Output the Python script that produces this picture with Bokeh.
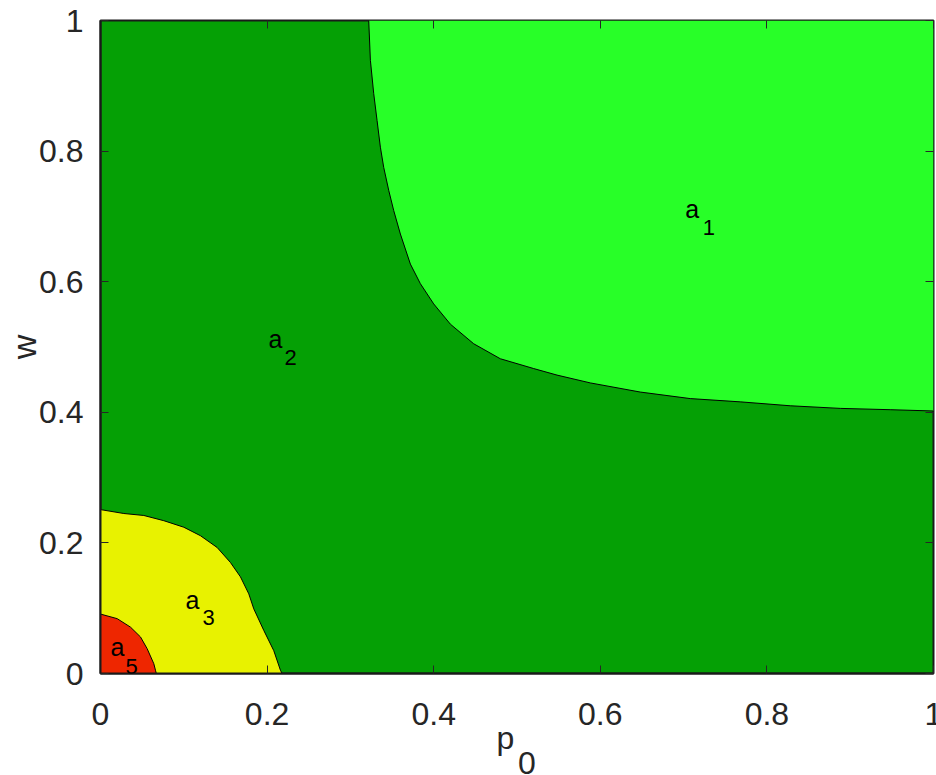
from bokeh.plotting import figure
from bokeh.models import Range1d, LinearAxis, Label, FixedTicker
from bokeh.embed import file_html
from bokeh.resources import INLINE

# ---------------- data ----------------
ticks = [0, 0.2, 0.4, 0.6, 0.8, 1]
tick_labels = ["0", "0.2", "0.4", "0.6", "0.8", "1"]

# x-axis title "p" with subscript "0": centre positions along p0
xtitle_pos = [0.486, 0.512]
xtitle_txt = ["\np", "\n\n0"]
ytitle = "w"

# boundary between a2 and a1 (p0, w)
a1_p0 = [0.322, 0.324, 0.328, 0.332, 0.336, 0.340, 0.346, 0.352, 0.360, 0.372,
         0.384, 0.400, 0.420, 0.448, 0.480, 0.520, 0.548, 0.588, 0.648, 0.708,
         0.768, 0.828, 0.888, 0.948, 1.0]
a1_w = [1.0, 0.939, 0.888, 0.847, 0.806, 0.775, 0.740, 0.709, 0.673, 0.627,
        0.597, 0.566, 0.535, 0.505, 0.482, 0.467, 0.457, 0.445, 0.431, 0.421,
        0.416, 0.410, 0.406, 0.404, 0.402]

# boundary between a3 and a2
a3_p0 = [0.0, 0.028, 0.052, 0.076, 0.100, 0.120, 0.140, 0.156, 0.168, 0.178,
         0.184, 0.196, 0.208, 0.216, 0.218]
a3_w = [0.251, 0.245, 0.242, 0.234, 0.224, 0.211, 0.193, 0.170, 0.148, 0.122,
        0.099, 0.066, 0.035, 0.005, 0.0]

# boundary between a5 and a3
a5_p0 = [0.0, 0.020, 0.036, 0.048, 0.056, 0.064, 0.066, 0.067]
a5_w = [0.091, 0.084, 0.071, 0.056, 0.038, 0.015, 0.005, 0.0]

# region labels: main letter and subscript
reg_names = ["a", "a", "a", "a"]
reg_subs = ["1", "2", "3", "5"]
reg_x = [0.702, 0.2017, 0.102, 0.012]
reg_y = [0.712, 0.513, 0.113, 0.041]
sub_x = [0.723, 0.221, 0.1224, 0.030]
sub_y = [0.683, 0.484, 0.085, 0.011]

C_A1 = "#28ff28"
C_A2 = "#05a005"
C_A3 = "#e8f200"
C_A5 = "#ee2600"

FONT = "Liberation Sans"
TXT = "#262626"

p = figure(frame_width=833, frame_height=653,
           x_range=Range1d(0, 1), y_range=Range1d(0, 1),
           output_backend="svg", toolbar_location=None,
           min_border_left=100, min_border_right=3,
           min_border_top=20, min_border_bottom=102)

p.background_fill_color = C_A2
p.border_fill_color = "white"
p.xgrid.visible = False
p.ygrid.visible = False
p.outline_line_color = "#1a1a1a"
p.outline_line_width = 2

# regions
p.patch(a1_p0 + [1.0], a1_w + [1.0], fill_color=C_A1, line_color=None)
p.patch(a3_p0 + [0.0], a3_w + [0.0], fill_color=C_A3, line_color=None)
p.patch(a5_p0 + [0.0], a5_w + [0.0], fill_color=C_A5, line_color=None)

# boundaries
for xs, ys in [(a1_p0, a1_w), (a3_p0, a3_w), (a5_p0, a5_w)]:
    p.line(xs, ys, line_color="black", line_width=1)

# region labels
for n, s, x, y, sx, sy in zip(reg_names, reg_subs, reg_x, reg_y, sub_x, sub_y):
    p.add_layout(Label(x=x, y=y, text=n, text_font=FONT, text_font_size="25px",
                       text_color="black", text_align="left", text_baseline="alphabetic"))
    p.add_layout(Label(x=sx, y=sy, text=s, text_font=FONT, text_font_size="22px",
                       text_color="black", text_align="left", text_baseline="alphabetic"))

ticker = FixedTicker(ticks=ticks)
overrides = {t: l for t, l in zip(ticks, tick_labels)}

# bottom: first axis carries only the inward tick marks
xa = p.xaxis[0]
xa.ticker = ticker
xa.major_label_text_font_size = "0px"
xa.major_label_text_alpha = 0
xa.major_label_standoff = 0
xa.major_tick_in = 8
xa.major_tick_out = 0
xa.minor_tick_line_color = None
xa.major_tick_line_color = "#262626"
xa.axis_line_color = "#1a1a1a"
xa.axis_line_width = 2

# bottom: second axis carries the tick labels and the x title
lab_ticks = ticks + xtitle_pos
lab_over = dict(overrides)
for t, s in zip(xtitle_pos, xtitle_txt):
    lab_over[t] = s
xl = LinearAxis(ticker=FixedTicker(ticks=lab_ticks), major_label_overrides=lab_over,
                major_label_text_font=FONT, major_label_text_font_size="32px",
                major_label_text_color=TXT, major_label_text_line_height=0.69,
                major_label_standoff=16, major_tick_line_color=None,
                minor_tick_line_color=None, axis_line_color=None)
p.add_layout(xl, "below")

ya = p.yaxis[0]
ya.ticker = ticker
ya.major_label_overrides = overrides
ya.major_label_text_font = FONT
ya.major_label_text_font_size = "32px"
ya.major_label_text_color = TXT
ya.major_label_standoff = 17
ya.major_tick_in = 8
ya.major_tick_out = 0
ya.minor_tick_line_color = None
ya.major_tick_line_color = "#262626"
ya.axis_line_color = "#1a1a1a"
ya.axis_line_width = 2
ya.axis_label = ytitle
ya.axis_label_text_font = FONT
ya.axis_label_text_font_size = "34px"
ya.axis_label_text_font_style = "normal"
ya.axis_label_text_color = TXT
ya.axis_label_standoff = -7

for loc in ("above", "right"):
    ax = LinearAxis(ticker=ticker, major_label_text_font_size="0px",
                    major_label_standoff=0, major_tick_in=8, major_tick_out=0,
                    minor_tick_line_color=None, axis_line_color=None,
                    major_tick_line_color="#262626")
    ax.major_label_text_alpha = 0
    p.add_layout(ax, loc)

open("out.html", "w").write(file_html(p, INLINE))
